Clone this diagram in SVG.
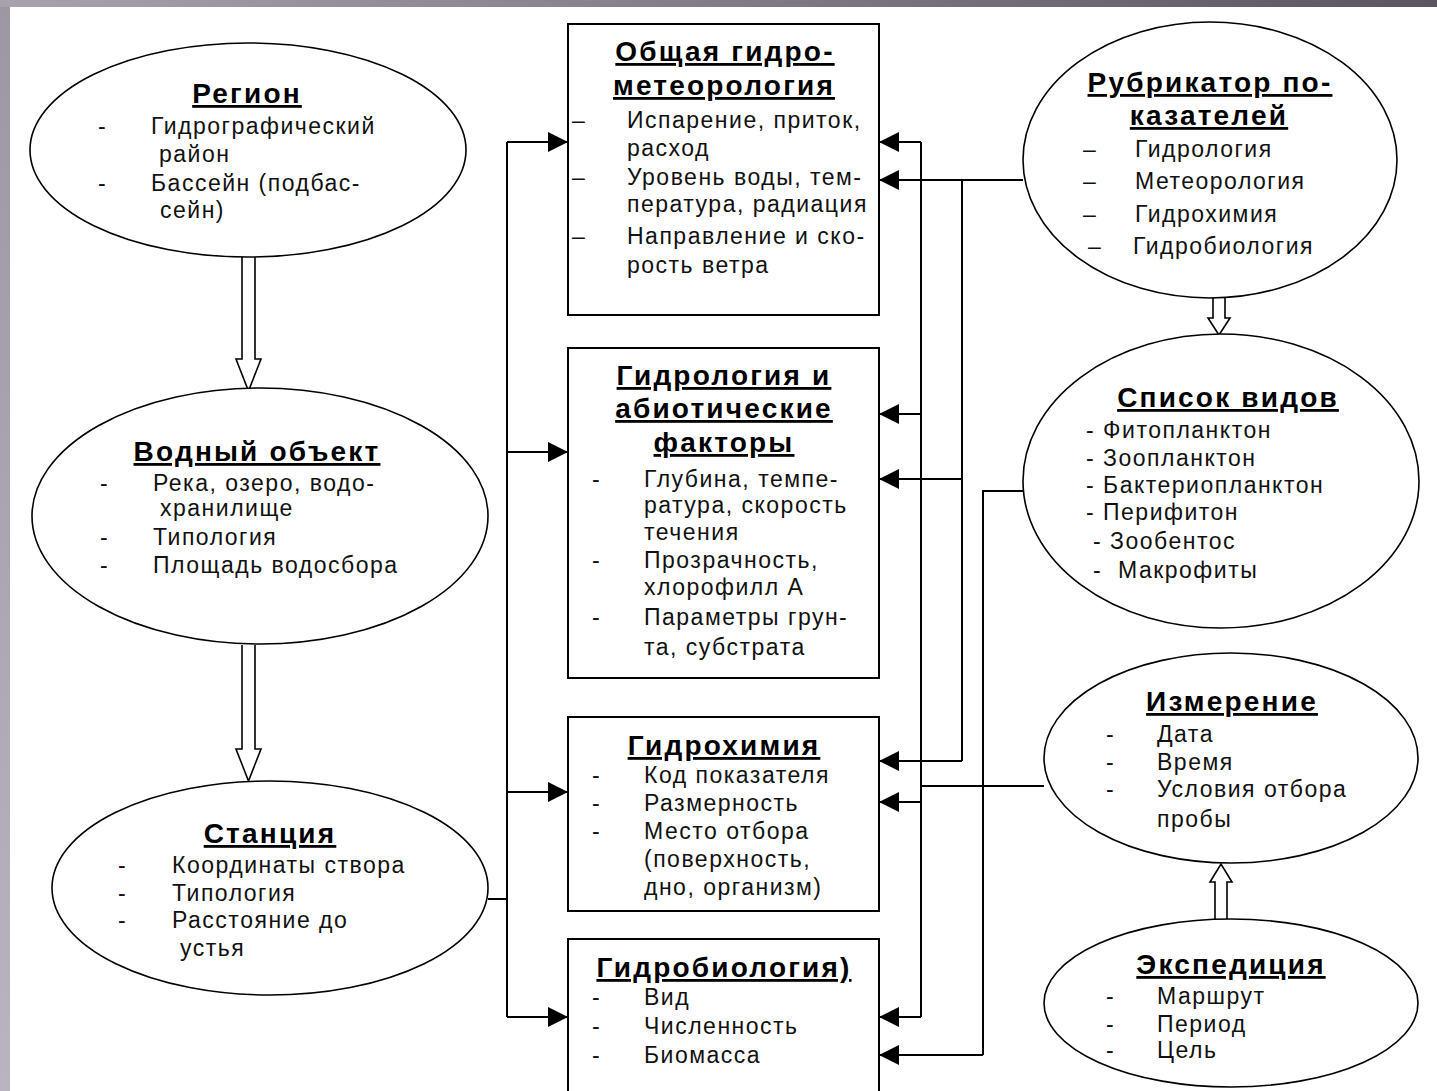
<svg xmlns="http://www.w3.org/2000/svg" width="1437" height="1091" viewBox="0 0 1437 1091">
<defs>
<linearGradient id="topg" x1="0" y1="0" x2="1" y2="0">
<stop offset="0" stop-color="#a7a2ad"/><stop offset="1" stop-color="#5a5560"/>
</linearGradient>
<linearGradient id="leftg" x1="0" y1="0" x2="0" y2="1">
<stop offset="0" stop-color="#9c97a3"/><stop offset="1" stop-color="#b9b4bf"/>
</linearGradient>
<marker id="ah" viewBox="0 0 20 20" refX="20" refY="10" markerWidth="20" markerHeight="20" markerUnits="userSpaceOnUse" orient="auto">
<path d="M0,0 L20,10 L0,20 Z" fill="#000"/>
</marker>
<style>
.t{font-family:"Liberation Sans",Arial,sans-serif;font-size:23px;fill:#111;letter-spacing:1.5px}
.h{font-family:"Liberation Sans",Arial,sans-serif;font-size:28px;font-weight:bold;fill:#000;text-anchor:middle;text-decoration:underline;letter-spacing:2.2px}
.ell{fill:#fff;stroke:#000;stroke-width:1.6}
.box{fill:#fff;stroke:#000;stroke-width:2}
.c{fill:none;stroke:#000;stroke-width:2}
.ca{fill:none;stroke:#000;stroke-width:2;marker-end:url(#ah)}
.dbl{fill:#fff;stroke:#000;stroke-width:1.6}
</style>
</defs>
<rect x="0" y="0" width="1437" height="1091" fill="#fff"/>
<rect x="0" y="0" width="10" height="1091" fill="url(#leftg)"/>
<rect x="0" y="0" width="1437" height="7" fill="url(#topg)"/>

<g id="connectors">
<path class="c" d="M488,899 H507 M507,142 V1017"/>
<path class="ca" d="M507,142 H568"/>
<path class="ca" d="M507,452 H568"/>
<path class="ca" d="M507,792 H568"/>
<path class="ca" d="M507,1017 H568"/>
<path class="c" d="M921,142 V1017 M1044,786 H921"/>
<path class="ca" d="M921,142 H879"/>
<path class="ca" d="M921,414 H879"/>
<path class="ca" d="M921,802 H879"/>
<path class="ca" d="M921,1017 H879"/>
<path class="c" d="M962,180 V761"/>
<path class="ca" d="M1023,180 H879"/>
<path class="ca" d="M962,479 H879"/>
<path class="ca" d="M962,761 H879"/>
<path class="c" d="M1024,491 H983 V1055"/>
<path class="ca" d="M983,1055 H879"/>
<path class="dbl" d="M242,257 V359 H236 L248.5,391 L261,359 H255 V257"/>
<path class="dbl" d="M242,645 V749 H236 L248.5,781 L261,749 H255 V645"/>
<path class="dbl" d="M1213,297 V318 H1208 L1219,335 L1230,318 H1225 V297"/>
<path class="dbl" d="M1215,921 V882 H1210 L1221,864 L1232,882 H1227 V921"/>
</g>

<g id="region">
<ellipse class="ell" cx="248" cy="150" rx="218" ry="107"/>
<text class="h" x="247" y="103">Регион</text>
<text class="t" x="98" y="134">-</text><text class="t" x="151" y="134">Гидрографический</text>
<text class="t" x="159" y="162">район</text>
<text class="t" x="98" y="191">-</text><text class="t" x="151" y="191">Бассейн (подбас-</text>
<text class="t" x="160" y="218">сейн)</text>
</g>

<g id="water-object">
<ellipse class="ell" cx="260" cy="516" rx="228" ry="128"/>
<text class="h" x="257" y="461">Водный объект</text>
<text class="t" x="100" y="491">-</text><text class="t" x="153" y="491">Река, озеро, водо-</text>
<text class="t" x="160" y="516">хранилище</text>
<text class="t" x="100" y="545">-</text><text class="t" x="153" y="545">Типология</text>
<text class="t" x="100" y="573">-</text><text class="t" x="153" y="573">Площадь водосбора</text>
</g>

<g id="station">
<ellipse class="ell" cx="270" cy="888" rx="218" ry="107"/>
<text class="h" x="270" y="843">Станция</text>
<text class="t" x="118" y="873">-</text><text class="t" x="172" y="873">Координаты створа</text>
<text class="t" x="118" y="901">-</text><text class="t" x="172" y="901">Типология</text>
<text class="t" x="118" y="928">-</text><text class="t" x="172" y="928">Расстояние до</text>
<text class="t" x="180" y="956">устья</text>
</g>

<g id="general-hydromet">
<rect class="box" x="568" y="24" width="311" height="291"/>
<text class="h" x="725" y="61">Общая гидро-</text>
<text class="h" x="724" y="95">метеорология</text>
<text class="t" x="572" y="128">–</text><text class="t" x="627" y="128">Испарение, приток,</text>
<text class="t" x="627" y="156">расход</text>
<text class="t" x="572" y="185">–</text><text class="t" x="627" y="185">Уровень воды, тем-</text>
<text class="t" x="627" y="212">пература, радиация</text>
<text class="t" x="572" y="244">–</text><text class="t" x="627" y="244">Направление и ско-</text>
<text class="t" x="627" y="273">рость ветра</text>
</g>

<g id="hydrology-abiotic">
<rect class="box" x="568" y="348" width="311" height="330"/>
<text class="h" x="724" y="385">Гидрология и</text>
<text class="h" x="724" y="418">абиотические</text>
<text class="h" x="724" y="452">факторы</text>
<text class="t" x="592" y="487">-</text><text class="t" x="644" y="487">Глубина, темпе-</text>
<text class="t" x="644" y="513">ратура, скорость</text>
<text class="t" x="644" y="540">течения</text>
<text class="t" x="592" y="568">-</text><text class="t" x="644" y="568">Прозрачность,</text>
<text class="t" x="644" y="595">хлорофилл А</text>
<text class="t" x="592" y="625">-</text><text class="t" x="644" y="625">Параметры грун-</text>
<text class="t" x="644" y="655">та, субстрата</text>
</g>

<g id="hydrochemistry">
<rect class="box" x="568" y="717" width="311" height="194"/>
<text class="h" x="724" y="755">Гидрохимия</text>
<text class="t" x="592" y="783">-</text><text class="t" x="644" y="783">Код показателя</text>
<text class="t" x="592" y="811">-</text><text class="t" x="644" y="811">Размерность</text>
<text class="t" x="592" y="839">-</text><text class="t" x="644" y="839">Место отбора</text>
<text class="t" x="644" y="867">(поверхность,</text>
<text class="t" x="644" y="895">дно, организм)</text>
</g>

<g id="hydrobiology">
<rect class="box" x="568" y="939" width="311" height="170"/>
<text class="h" x="724" y="977">Гидробиология)</text>
<text class="t" x="592" y="1005">-</text><text class="t" x="644" y="1005">Вид</text>
<text class="t" x="592" y="1034">-</text><text class="t" x="644" y="1034">Численность</text>
<text class="t" x="592" y="1063">-</text><text class="t" x="644" y="1063">Биомасса</text>
</g>

<g id="rubricator">
<ellipse class="ell" cx="1210" cy="160" rx="187" ry="138"/>
<text class="h" x="1210" y="92">Рубрикатор по-</text>
<text class="h" x="1209" y="125">казателей</text>
<text class="t" x="1083" y="157">–</text><text class="t" x="1135" y="157">Гидрология</text>
<text class="t" x="1083" y="189">–</text><text class="t" x="1135" y="189">Метеорология</text>
<text class="t" x="1083" y="222">–</text><text class="t" x="1135" y="222">Гидрохимия</text>
<text class="t" x="1088" y="254">–</text><text class="t" x="1133" y="254">Гидробиология</text>
</g>

<g id="species-list">
<ellipse class="ell" cx="1221" cy="481" rx="198" ry="147"/>
<text class="h" x="1228" y="407">Список видов</text>
<text class="t" x="1086" y="438">- Фитопланктон</text>
<text class="t" x="1086" y="466">- Зоопланктон</text>
<text class="t" x="1086" y="493">- Бактериопланктон</text>
<text class="t" x="1086" y="520">- Перифитон</text>
<text class="t" x="1093" y="549">- Зообентос</text>
<text class="t" x="1093" y="578">-</text><text class="t" x="1118" y="578">Макрофиты</text>
</g>

<g id="measurement">
<ellipse class="ell" cx="1231" cy="758" rx="187" ry="105"/>
<text class="h" x="1232" y="711">Измерение</text>
<text class="t" x="1106" y="742">-</text><text class="t" x="1157" y="742">Дата</text>
<text class="t" x="1106" y="770">-</text><text class="t" x="1157" y="770">Время</text>
<text class="t" x="1106" y="797">-</text><text class="t" x="1157" y="797">Условия отбора</text>
<text class="t" x="1157" y="827">пробы</text>
</g>

<g id="expedition">
<ellipse class="ell" cx="1231" cy="1003" rx="187" ry="84"/>
<text class="h" x="1231" y="974">Экспедиция</text>
<text class="t" x="1106" y="1004">-</text><text class="t" x="1157" y="1004">Маршрут</text>
<text class="t" x="1106" y="1032">-</text><text class="t" x="1157" y="1032">Период</text>
<text class="t" x="1106" y="1058">-</text><text class="t" x="1157" y="1058">Цель</text>
</g>
</svg>
